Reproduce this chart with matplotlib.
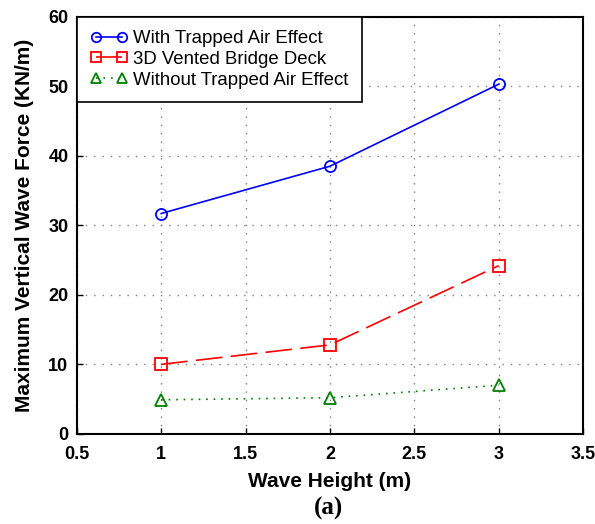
import matplotlib
matplotlib.use("Agg")
import matplotlib.pyplot as plt

x = [1, 2, 3]
with_air = [31.7, 38.5, 50.3]
vented = [10.0, 12.8, 24.2]
without_air = [4.9, 5.2, 7.0]
labels = ["With Trapped Air Effect", "3D Vented Bridge Deck", "Without Trapped Air Effect"]
xticks = [0.5, 1, 1.5, 2, 2.5, 3, 3.5]
yticks = [0, 10, 20, 30, 40, 50, 60]

plt.rcParams['font.family'] = ['Liberation Sans', 'DejaVu Sans']

fig = plt.figure(figsize=(5.95, 5.24), dpi=100)
ax = fig.add_axes([0.129, 0.172, 0.851, 0.796])

ax.plot(x, with_air, color='blue', lw=1.2, marker='o', ms=8, mfc='none', mew=1.3, label=labels[0])
ax.plot(x, vented, color='red', lw=1.2, ls=(0, (16, 5)), marker='s', ms=8, mfc='none', mew=1.3, label=labels[1])
ax.plot(x, without_air, color='green', lw=1.2, ls=(0, (1, 3.5)), marker='^', ms=8, mfc='none', mew=1.3, label=labels[2])

ax.set_xlim(0.5, 3.5)
ax.set_ylim(0, 60)
ax.set_xticks(xticks)
ax.set_xticklabels([str(t) for t in xticks])
ax.set_yticks(yticks)
ax.grid(True, ls=(0, (1, 5)), color='gray', lw=1)
ax.tick_params(direction='in', length=4, width=1, labelsize=13)
ax.tick_params(axis='x', pad=9)
ax.tick_params(axis='y', pad=6)
for lab in ax.get_xticklabels() + ax.get_yticklabels():
    lab.set_fontweight('bold')
for s in ax.spines.values():
    s.set_linewidth(1.5)

ax.set_xlabel("Wave Height (m)", fontsize=15, fontweight='bold', labelpad=6)
ax.set_ylabel("Maximum Vertical Wave Force (KN/m)", fontsize=15, fontweight='bold', labelpad=10)

leg = ax.legend(loc='upper left', numpoints=2, fontsize=13.4, fancybox=False, edgecolor='black',
                framealpha=1, borderaxespad=0, handlelength=2.0, handletextpad=0.3,
                borderpad=0.72, labelspacing=0.2, markerscale=0.85)
leg.get_frame().set_linewidth(1.2)

fig.text(0.552, 0.018, "(a)", fontsize=18, fontweight='bold', family=['Liberation Serif'], ha='center')

fig.savefig("out.png", dpi=100)
